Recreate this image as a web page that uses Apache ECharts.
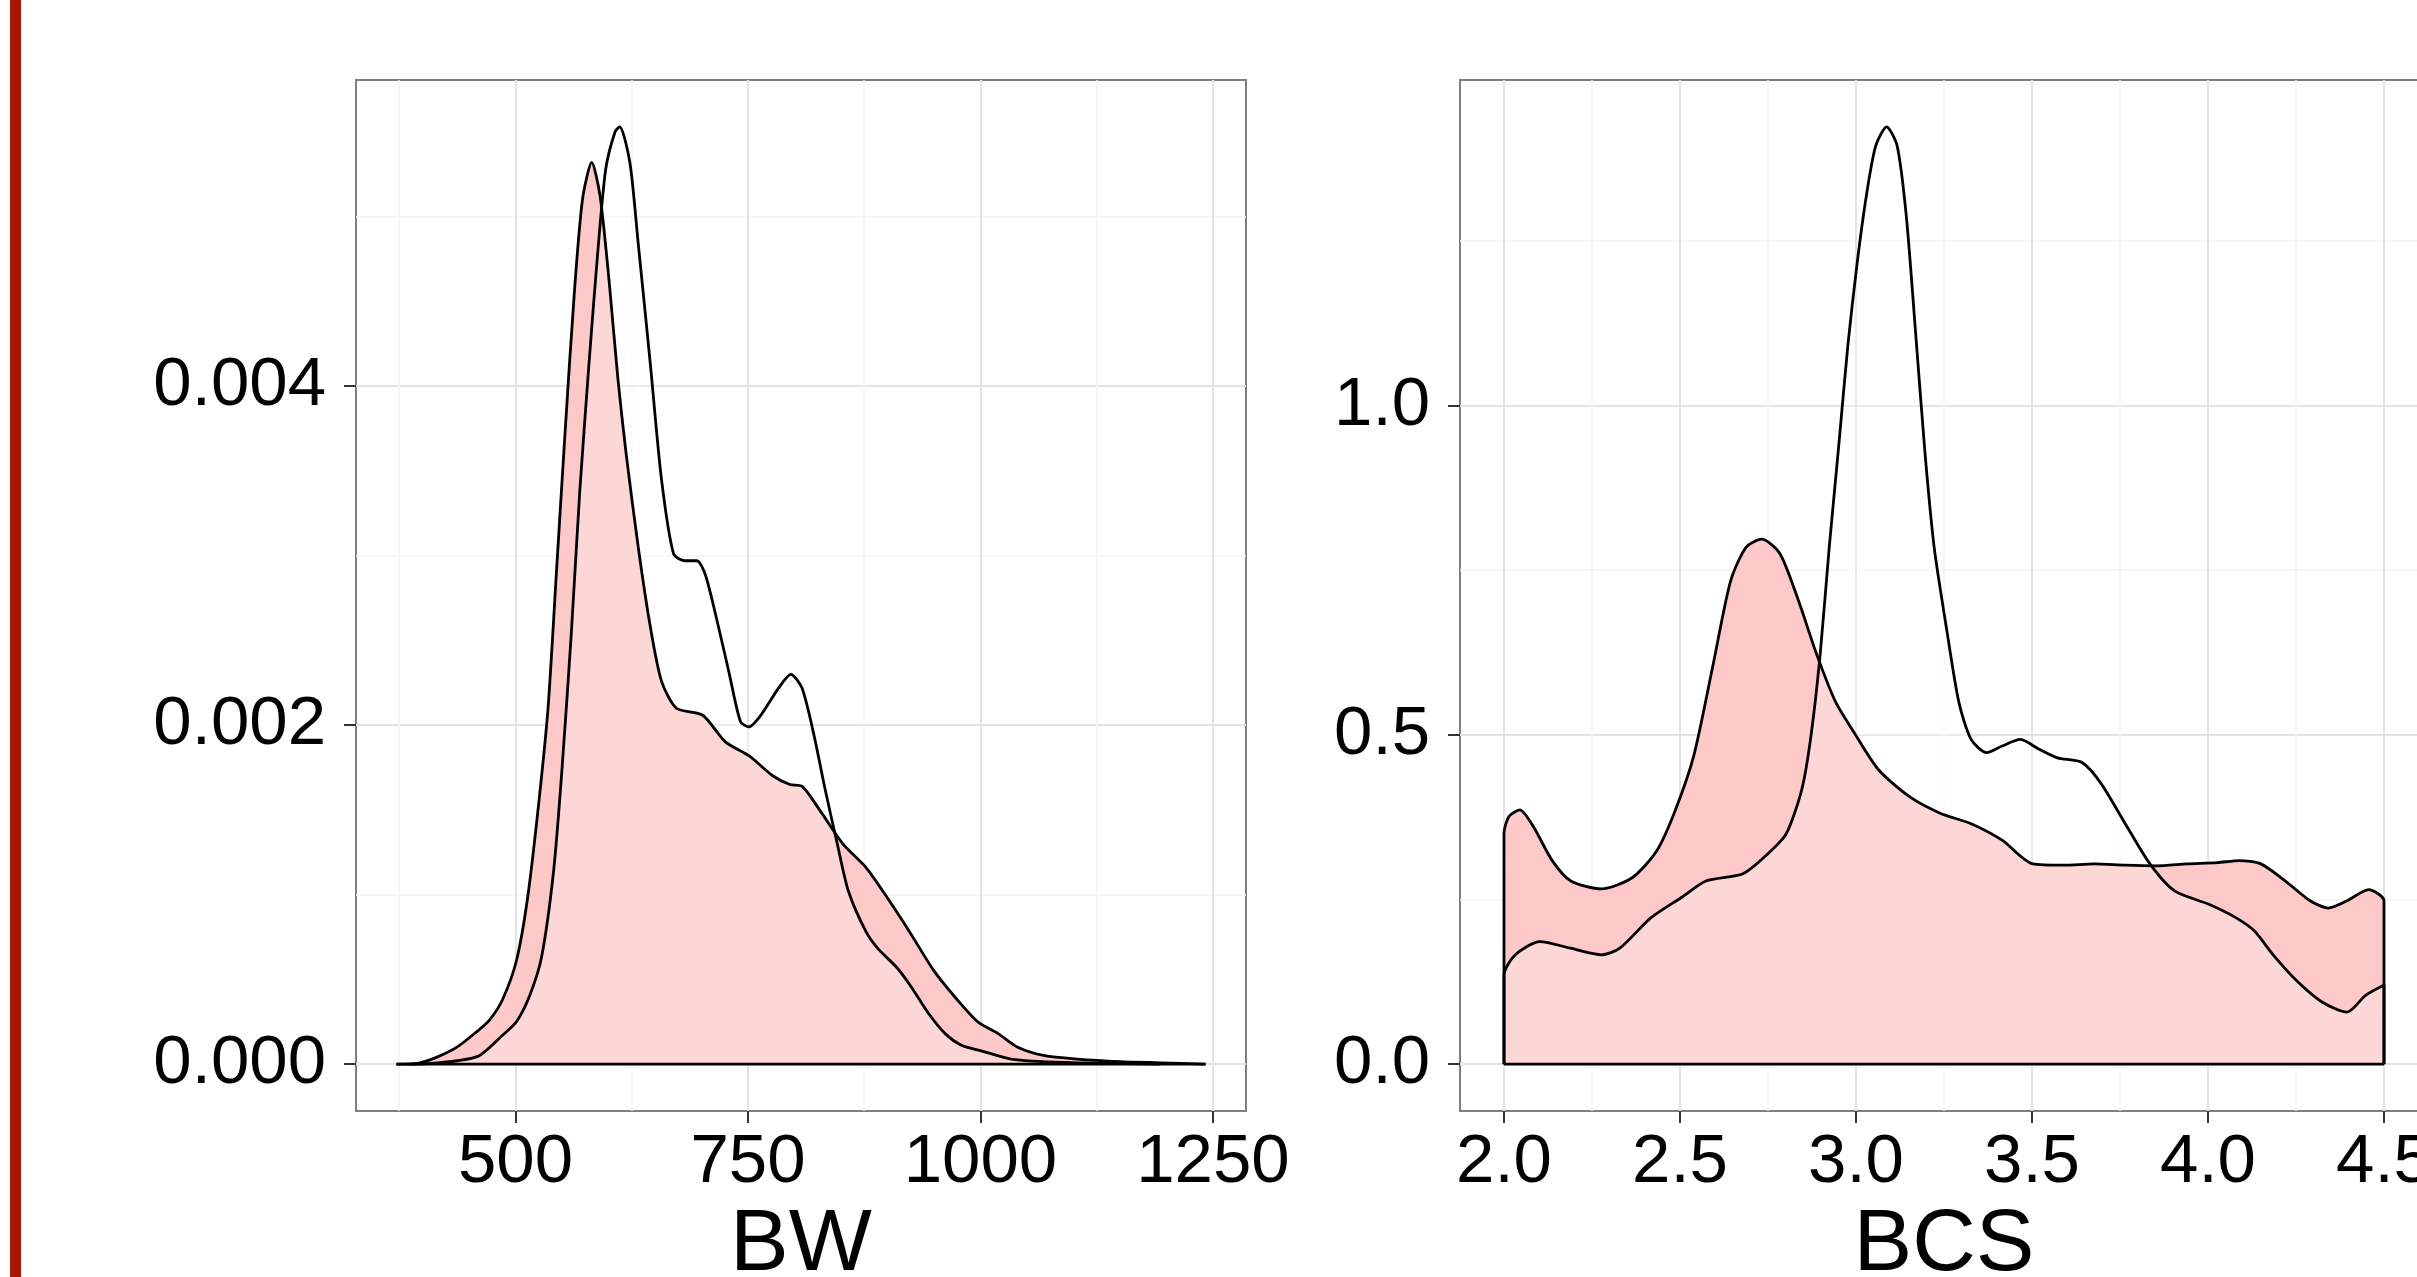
<!DOCTYPE html>
<html>
<head>
<meta charset="utf-8">
<script src="https://cdn.jsdelivr.net/npm/echarts@6/dist/echarts.min.js"></script>
<style>
html,body{margin:0;padding:0;background:#fff;}
#chart{width:2417px;height:1277px;}
</style>
</head>
<body>
<div id="chart"></div>
<script>
// ---- Panel 1: BW densities ----
const bwX_A = [372,395,415,437,458,472,486,501,513,525,535,544,553,563,572,582,591,601,610,619,632,645,657,673,701,726,751,777,795,808,827,852,877,900,925,950,975,997,1019,1040,1069,1104,1150,1193,1242];
const bwY_A = [0,0.000005,0.00004,0.0001,0.00019,0.00026,0.00038,0.00061,0.00098,0.00154,0.0021,0.0029,0.0037,0.00453,0.0051,0.00532,0.00512,0.0046,0.00405,0.0036,0.00305,0.00258,0.00226,0.0021,0.00206,0.0019,0.00182,0.0017,0.00165,0.00164,0.0015,0.0013,0.00116,0.00098,0.00077,0.00055,0.00038,0.00025,0.00018,0.0001,0.00005,0.00003,0.000015,0.000008,0];
const bwX_B = [387,410,437,461,486,501,515,528,541,550,560,569,579,588,597,607,612,623,632,645,657,670,682,695,704,717,730,742,751,764,783,796,808,821,833,846,858,877,890,910,925,944,962,980,1000,1033,1090,1193];
const bwY_B = [0,0.000005,0.00002,0.00005,0.00017,0.00025,0.0004,0.00063,0.00114,0.00174,0.00254,0.00337,0.00413,0.00476,0.00528,0.0055,0.00553,0.00532,0.00484,0.00413,0.00345,0.00301,0.00297,0.00297,0.00289,0.00261,0.0023,0.00202,0.00199,0.00206,0.00222,0.0023,0.00222,0.00194,0.00162,0.0013,0.00102,0.00078,0.00068,0.00057,0.00046,0.0003,0.00018,0.00011,0.00008,0.00003,0.00001,0];
const bwTicks = [500,750,1000,1250];
const bwMinorTicks = [375,625,875,1125];
const bwDensTicks = [0,0.002,0.004];
const bwDensMinorTicks = [0.001,0.003,0.005];

// ---- Panel 2: BCS densities ----
const bcsX_A = [2.0,2.014,2.045,2.084,2.137,2.19,2.277,2.364,2.434,2.487,2.539,2.592,2.644,2.688,2.732,2.784,2.837,2.889,2.942,2.994,3.064,3.152,3.239,3.327,3.415,3.502,3.59,3.677,3.765,3.852,3.94,4.027,4.089,4.15,4.22,4.29,4.342,4.395,4.456,4.5];
const bcsY_A = [0.35,0.376,0.386,0.36,0.309,0.278,0.266,0.283,0.324,0.386,0.468,0.601,0.734,0.785,0.797,0.775,0.703,0.621,0.55,0.504,0.447,0.406,0.381,0.365,0.34,0.304,0.302,0.304,0.302,0.301,0.304,0.306,0.309,0.304,0.278,0.248,0.237,0.248,0.265,0.248];
const bcsX_B = [2.0,2.032,2.102,2.189,2.277,2.329,2.417,2.504,2.574,2.679,2.749,2.802,2.846,2.872,2.898,2.924,2.951,2.977,3.003,3.029,3.056,3.087,3.117,3.143,3.169,3.196,3.222,3.257,3.292,3.327,3.371,3.415,3.467,3.52,3.572,3.642,3.695,3.765,3.835,3.905,4.001,4.08,4.132,4.185,4.255,4.325,4.395,4.447,4.5];
const bcsY_B = [0.135,0.166,0.186,0.176,0.166,0.176,0.222,0.253,0.278,0.289,0.319,0.35,0.417,0.498,0.621,0.785,0.939,1.092,1.215,1.317,1.394,1.423,1.394,1.287,1.113,0.928,0.785,0.662,0.55,0.493,0.473,0.483,0.493,0.478,0.465,0.458,0.427,0.365,0.304,0.263,0.243,0.222,0.202,0.166,0.125,0.094,0.079,0.104,0.12];
const bcsTicks = [2.0,2.5,3.0,3.5,4.0,4.5];
const bcsMinorTicks = [2.25,2.75,3.25,3.75,4.25];
const bcsDensTicks = [0,0.5,1.0];
const bcsDensMinorTicks = [0.25,0.75,1.25];

const xNames = ['BW','BCS'];

// ---- helpers ----
const zip = (xs, ys) => xs.map((x, i) => [x, ys[i]]);
// closed outline: vertical edges down to 0 at both ends of the data range
const closed = (xs, ys) => [[xs[0], 0]].concat(zip(xs, ys), [[xs[xs.length - 1], 0]]);
const range = (a, b) => [Math.min(a[0], b[0]), Math.max(a[a.length-1], b[b.length-1])];
const pad = (lo, hi) => { const d = (hi - lo) * 0.05; return [lo - d, hi + d]; };

const FONT = '"Liberation Sans", Arial, Helvetica, sans-serif';
const FILL_A = 'rgb(252,200,200)';
const MAJOR = '#e3e3e3';
const MINOR = '#f3f3f3';
const LW = 2.8;

const bwR = range(bwX_A, bwX_B);
const bcsR = range(bcsX_A, bcsX_B);
const bwXLim = pad(bwR[0], bwR[1]);
const bwYLim = pad(0, Math.max(...bwY_A, ...bwY_B));
const bcsXLim = pad(2.0, 4.5);
const bcsYLim = pad(0, Math.max(...bcsY_A, ...bcsY_B));

function majorX(grid, lim, ticks, dec, name) {
  return {
    type: 'value', gridIndex: grid, min: lim[0], max: lim[1], position: 'bottom',
    name: name, nameLocation: 'middle', nameGap: 84,
    nameTextStyle: { fontFamily: FONT, fontSize: 88, color: '#000' },
    axisLine: { show: false, onZero: false },
    axisTick: { show: true, length: 12, customValues: ticks, lineStyle: { color: '#333', width: 2 } },
    axisLabel: { customValues: ticks, margin: 17, fontFamily: FONT, fontSize: 69, color: '#000',
      formatter: v => Number(v).toFixed(dec) },
    splitLine: { show: true, lineStyle: { color: MAJOR, width: 2 } },
    minorSplitLine: { show: false }
  };
}
function minorX(grid, lim, ticks) {
  return {
    type: 'value', gridIndex: grid, min: lim[0], max: lim[1], position: 'bottom',
    axisLine: { show: false, onZero: false },
    axisTick: { show: false, customValues: ticks },
    axisLabel: { show: false, customValues: ticks },
    splitLine: { show: true, lineStyle: { color: MINOR, width: 1.5 } }
  };
}
function majorY(grid, lim, ticks, dec) {
  return {
    type: 'value', gridIndex: grid, min: lim[0], max: lim[1], position: 'left',
    axisLine: { show: false, onZero: false },
    axisTick: { show: true, length: 12, customValues: ticks, lineStyle: { color: '#333', width: 2 } },
    axisLabel: { customValues: ticks, margin: 30, fontFamily: FONT, fontSize: 69, color: '#000',
      formatter: v => Number(v).toFixed(dec) },
    splitLine: { show: true, lineStyle: { color: MAJOR, width: 2 } }
  };
}
function minorY(grid, lim, ticks) {
  return {
    type: 'value', gridIndex: grid, min: lim[0], max: lim[1], position: 'left',
    axisLine: { show: false, onZero: false },
    axisTick: { show: false, customValues: ticks },
    axisLabel: { show: false, customValues: ticks },
    splitLine: { show: true, lineStyle: { color: MINOR, width: 1.5 } }
  };
}

function panelSeries(xi, yi, xA, yA, xB, yB, lim) {
  const areaA = closed(xA, yA), areaB = closed(xB, yB);
  const common = { type: 'line', xAxisIndex: xi, yAxisIndex: yi, showSymbol: false, symbol: 'none',
    smooth: 0.25, silent: true, animation: false };
  return [
    Object.assign({}, common, { data: areaA, z: 2, lineStyle: { width: 0, opacity: 0 },
      areaStyle: { color: FILL_A, opacity: 1 } }),
    Object.assign({}, common, { data: areaB, z: 2, lineStyle: { width: 0, opacity: 0 },
      areaStyle: { color: '#ffffff', opacity: 0.25 } }),
    Object.assign({}, common, { data: areaA, z: 3, lineStyle: { color: '#000', width: LW } }),
    Object.assign({}, common, { data: areaB, z: 3, lineStyle: { color: '#000', width: LW } }),
    Object.assign({}, common, { smooth: false, data: [[lim[0], 0], [lim[1], 0]], z: 3,
      lineStyle: { color: '#000', width: LW } })
  ];
}

const chart = echarts.init(document.getElementById('chart'), null, { renderer: 'canvas' });
chart.setOption({
  backgroundColor: '#ffffff',
  animation: false,
  grid: [
    { left: 356, top: 80, width: 890, height: 1031, show: true, borderColor: '#7f7f7f', borderWidth: 2,
      backgroundColor: 'transparent', containLabel: false, outerBoundsMode: 'none' },
    { left: 1460, top: 80, width: 968, height: 1031, show: true, borderColor: '#7f7f7f', borderWidth: 2,
      backgroundColor: 'transparent', containLabel: false, outerBoundsMode: 'none' }
  ],
  xAxis: [
    majorX(0, bwXLim, bwTicks, 0, xNames[0]),
    minorX(0, bwXLim, bwMinorTicks),
    majorX(1, bcsXLim, bcsTicks, 1, xNames[1]),
    minorX(1, bcsXLim, bcsMinorTicks)
  ],
  yAxis: [
    majorY(0, bwYLim, bwDensTicks, 3),
    minorY(0, bwYLim, bwDensMinorTicks),
    majorY(1, bcsYLim, bcsDensTicks, 1),
    minorY(1, bcsYLim, bcsDensMinorTicks)
  ],
  graphic: [
    { type: 'rect', left: 10, top: 0, shape: { width: 11, height: 1277 }, style: { fill: '#a81800' }, z: 10 }
  ],
  series: [].concat(
    panelSeries(0, 0, bwX_A, bwY_A, bwX_B, bwY_B, bwR),
    panelSeries(2, 2, bcsX_A, bcsY_A, bcsX_B, bcsY_B, bcsR)
  )
});
</script>
</body>
</html>
